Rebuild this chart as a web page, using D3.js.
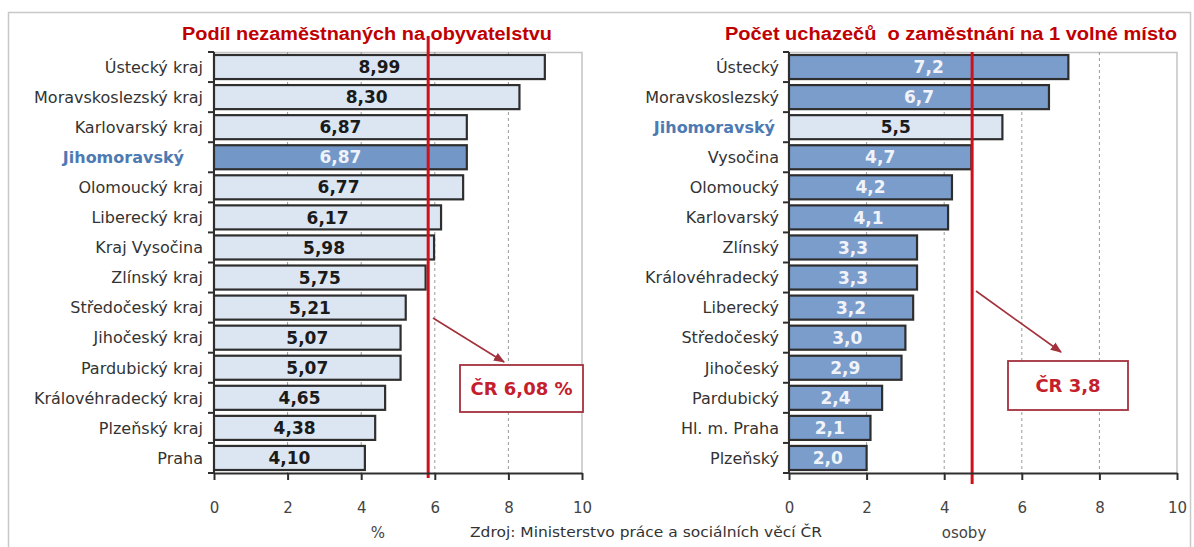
<!DOCTYPE html>
<html><head><meta charset="utf-8">
<script src="https://cdn.jsdelivr.net/npm/d3@7"></script>
<style>body{margin:0;background:#fff}svg{display:block}</style>
</head><body>
<svg id="c" width="1194" height="547"></svg>
<script>
// ---- data ----
const leftCategories = ["Ústecký kraj","Moravskoslezský kraj","Karlovarský kraj","Jihomoravský","Olomoucký kraj","Liberecký kraj","Kraj Vysočina","Zlínský kraj","Středočeský kraj","Jihočeský kraj","Pardubický kraj","Královéhradecký kraj","Plzeňský kraj","Praha"];
const leftValues = [8.99,8.30,6.87,6.87,6.77,6.17,5.98,5.75,5.21,5.07,5.07,4.65,4.38,4.10];
const leftLabels = ["8,99","8,30","6,87","6,87","6,77","6,17","5,98","5,75","5,21","5,07","5,07","4,65","4,38","4,10"];
const rightCategories = ["Ústecký","Moravskoslezský","Jihomoravský","Vysočina","Olomoucký","Karlovarský","Zlínský","Královéhradecký","Liberecký","Středočeský","Jihočeský","Pardubický","Hl. m. Praha","Plzeňský"];
const rightValues = [7.2,6.7,5.5,4.7,4.2,4.1,3.3,3.3,3.2,3.0,2.9,2.4,2.1,2.0];
const rightLabels = ["7,2","6,7","5,5","4,7","4,2","4,1","3,3","3,3","3,2","3,0","2,9","2,4","2,1","2,0"];
const xTicks = [0,2,4,6,8,10];
const highlight = "Jihomoravský";
const leftTitle = "Podíl nezaměstnaných na obyvatelstvu";
const rightTitle = "Počet uchazečů  o zaměstnání na 1 volné místo";
const leftAvgLine = 5.82, rightAvgLine = 4.72;   // positions of red lines as drawn
const leftCallout = "ČR 6,08 %", rightCallout = "ČR 3,8";
const leftUnit = "%", rightUnit = "osoby";
const source = "Zdroj: Ministerstvo práce a sociálních věcí ČR";

const svg = d3.select("#c");
const FONT = "'DejaVu Sans', Verdana, sans-serif";
const RED = "#c00000", DARK = "#2e2e2e", ARROW = "#a3313c";

svg.append("defs").append("marker").attr("id","arr").attr("viewBox","0 0 10 10")
  .attr("refX",9).attr("refY",5).attr("markerWidth",7).attr("markerHeight",7).attr("orient","auto")
  .append("path").attr("d","M0,1 L10,5 L0,9 z").attr("fill",ARROW);

// outer frame
svg.append("rect").attr("x",8.5).attr("y",12.5).attr("width",1182).attr("height",540)
  .attr("fill","none").attr("stroke","#c8c8c8").attr("stroke-width",1.5);

function panel(o){
  const x = d3.scaleLinear([0,10],[o.x0,o.x1]);
  const y = d3.scaleBand(o.cats,[52,473]).paddingInner(0.2).paddingOuter(0.1);
  const g = svg.append("g");
  g.append("path").attr("d",`M${o.x0},52.5 H${o.x1} V473`).attr("fill","none").attr("stroke","#c4c4c4").attr("stroke-width",1.5);
  g.selectAll(".grid").data(xTicks.slice(1,-1)).join("line")
    .attr("x1",d=>x(d)).attr("x2",d=>x(d)).attr("y1",52).attr("y2",473)
    .attr("stroke","#9a9a9a").attr("stroke-width",1).attr("stroke-dasharray","3,3");
  g.selectAll(".bar").data(o.cats).join("rect")
    .attr("x",x(0)).attr("y",d=>y(d)).attr("height",y.bandwidth())
    .attr("width",(d,i)=>x(o.vals[i])-x(0))
    .attr("fill",d=>d===highlight?o.hiFill:o.fill)
    .attr("stroke",DARK).attr("stroke-width",2.2);
  g.selectAll(".val").data(o.cats).join("text")
    .attr("x",(d,i)=>(x(0)+x(o.vals[i]))/2).attr("y",d=>y(d)+y.bandwidth()/2)
    .attr("dy","0.36em").attr("text-anchor","middle")
    .attr("font-family",FONT).attr("font-weight","bold").attr("font-size",17)
    .attr("fill",d=>d===highlight?o.hiText:o.text)
    .text((d,i)=>o.labels[i]);
  g.append("line").attr("x1",x(o.avg)).attr("x2",x(o.avg)).attr("y1",o.redTop).attr("y2",o.redBottom)
    .attr("stroke","#d0101a").attr("stroke-width",3);
  const ax = g.append("g").attr("transform","translate(0,473)")
    .call(d3.axisBottom(x).tickValues(xTicks).tickSize(7).tickSizeOuter(0).tickPadding(22).tickFormat(d3.format("d")));
  ax.select(".domain").attr("stroke",DARK).attr("stroke-width",2);
  ax.selectAll(".tick line").attr("stroke",DARK).attr("stroke-width",2);
  ax.selectAll("text").attr("font-family",FONT).attr("font-size",15).attr("fill","#444");
  g.append("line").attr("x1",x(0)).attr("x2",x(0)).attr("y1",52).attr("y2",473).attr("stroke",DARK).attr("stroke-width",2);
  const bounds = d3.range(o.cats.length+1).map(i=>52 + i*(421/o.cats.length));
  g.selectAll(".yt").data(bounds).join("line")
    .attr("x1",x(0)-6).attr("x2",x(0)).attr("y1",d=>d).attr("y2",d=>d).attr("stroke",DARK).attr("stroke-width",2);
  g.selectAll(".cat").data(o.cats).join("text")
    .attr("x",d=>d===highlight?o.hiLabelX:o.labelX).attr("y",d=>y(d)+y.bandwidth()/2).attr("dy","0.36em")
    .attr("text-anchor","end").attr("font-family",FONT).attr("font-size",16)
    .attr("font-weight",d=>d===highlight?"bold":"normal")
    .attr("fill",d=>d===highlight?"#4d7ab3":"#333")
    .text(d=>d);
  g.append("text").attr("x",o.titleX).attr("y",40).attr("font-family","'Liberation Sans', Arial, sans-serif")
    .attr("font-weight","bold").attr("font-size",18).attr("fill",RED).style("white-space","pre")
    .attr("textLength",o.titleW).attr("lengthAdjust","spacingAndGlyphs").text(o.title);
  g.append("text").attr("x",o.unitX).attr("y",538).attr("text-anchor","middle")
    .attr("font-family",FONT).attr("font-size",15).attr("fill","#444").text(o.unit);
  const c = o.callout;
  g.append("line").attr("x1",c.ax0).attr("y1",c.ay0).attr("x2",c.ax1).attr("y2",c.ay1)
    .attr("stroke",ARROW).attr("stroke-width",1.6).attr("marker-end","url(#arr)");
  g.append("rect").attr("x",c.bx).attr("y",c.by).attr("width",c.bw).attr("height",c.bh)
    .attr("fill","#fff").attr("stroke",ARROW).attr("stroke-width",1.8);
  g.append("text").attr("x",c.bx+c.bw/2).attr("y",c.by+c.bh/2).attr("dy","0.36em").attr("text-anchor","middle")
    .attr("font-family",FONT).attr("font-weight","bold").attr("font-size",18).attr("fill","#c4202c").text(o.calloutText);
}

panel({x0:214,x1:582,cats:leftCategories,vals:leftValues,labels:leftLabels,
  fill:"#dce6f2",hiFill:"#7398c8",text:"#1a1a1a",hiText:"#eef3fa",avg:leftAvgLine,redTop:36,redBottom:478,
  labelX:203,hiLabelX:184,title:leftTitle,titleX:182,titleW:370,unit:leftUnit,unitX:378,
  callout:{ax0:433,ay0:318,ax1:504,ay1:362,bx:460,by:365,bw:123,bh:47},calloutText:leftCallout});
panel({x0:789,x1:1177,cats:rightCategories,vals:rightValues,labels:rightLabels,
  fill:"#7b9dcc",hiFill:"#dce6f2",text:"#f0f4fa",hiText:"#1a1a1a",avg:rightAvgLine,redTop:52,redBottom:484,
  labelX:779,hiLabelX:775,title:rightTitle,titleX:725,titleW:452,unit:rightUnit,unitX:964,
  callout:{ax0:976,ay0:291,ax1:1061,ay1:352,bx:1008,by:361,bw:120,bh:49},calloutText:rightCallout});

svg.append("text").attr("x",470).attr("y",537).attr("font-family",FONT).attr("font-size",13.5)
  .attr("fill","#333").attr("textLength",352).attr("lengthAdjust","spacingAndGlyphs").text(source);
</script>
</body></html>
